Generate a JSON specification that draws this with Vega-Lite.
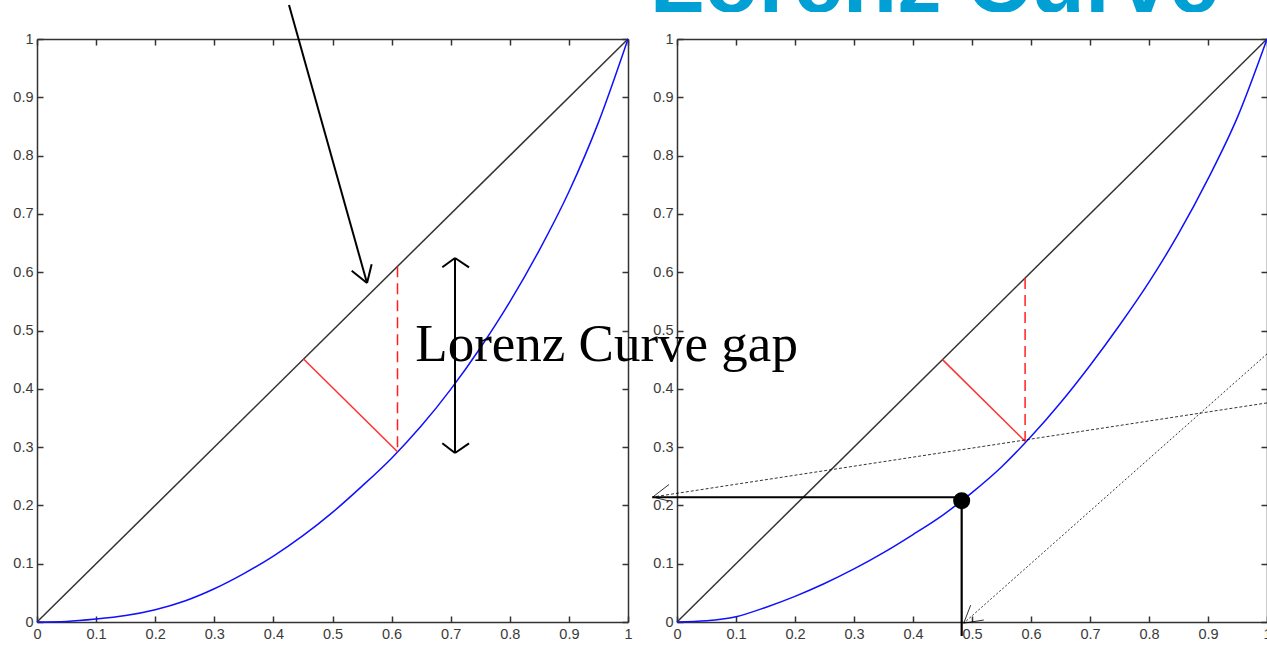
{
  "$schema": "https://vega.github.io/schema/vega-lite/v6.json",
  "padding": {"left": 12, "top": 0, "right": 0, "bottom": 0},
  "autosize": {"type": "pad"},
  "bounds": "flush",
  "spacing": 27,
  "datasets": {
    "title": [{"x": -0.046, "y": 0, "label": "Lorenz Curve"}],
    "diag": [{"x": 0, "y": 0}, {"x": 1, "y": 1}],
    "curveL": [
      {"x": 0, "y": 0}, {"x": 0.05, "y": 0.001}, {"x": 0.1, "y": 0.005}, {"x": 0.15, "y": 0.011},
      {"x": 0.2, "y": 0.021}, {"x": 0.25, "y": 0.036}, {"x": 0.3, "y": 0.057}, {"x": 0.35, "y": 0.083},
      {"x": 0.4, "y": 0.113}, {"x": 0.45, "y": 0.148}, {"x": 0.5, "y": 0.188}, {"x": 0.55, "y": 0.233},
      {"x": 0.6, "y": 0.281}, {"x": 0.65, "y": 0.336}, {"x": 0.7, "y": 0.399}, {"x": 0.75, "y": 0.47},
      {"x": 0.8, "y": 0.549}, {"x": 0.85, "y": 0.638}, {"x": 0.9, "y": 0.738}, {"x": 0.95, "y": 0.857},
      {"x": 1, "y": 1}
    ],
    "curveR": [
      {"x": 0, "y": 0}, {"x": 0.05, "y": 0.002}, {"x": 0.1, "y": 0.009}, {"x": 0.15, "y": 0.025},
      {"x": 0.2, "y": 0.044}, {"x": 0.25, "y": 0.066}, {"x": 0.3, "y": 0.091}, {"x": 0.35, "y": 0.119},
      {"x": 0.4, "y": 0.15}, {"x": 0.45, "y": 0.183}, {"x": 0.5, "y": 0.222}, {"x": 0.55, "y": 0.266},
      {"x": 0.6, "y": 0.318}, {"x": 0.65, "y": 0.376}, {"x": 0.7, "y": 0.44}, {"x": 0.75, "y": 0.509},
      {"x": 0.8, "y": 0.583}, {"x": 0.85, "y": 0.666}, {"x": 0.9, "y": 0.76}, {"x": 0.95, "y": 0.866},
      {"x": 1, "y": 1}
    ],
    "segL": [
      {"x": 0.451, "y": 0.451, "x2": 0.61, "y2": 0.292, "kind": "gap"},
      {"x": 0.61, "y": 0.61, "x2": 0.61, "y2": 0.292, "kind": "gapV"},
      {"x": 0.4264, "y": 1.0583, "x2": 0.5584, "y2": 0.5815, "kind": "arrow"},
      {"x": 0.5584, "y": 0.5815, "x2": 0.5325, "y2": 0.6026, "kind": "arrow"},
      {"x": 0.5584, "y": 0.5815, "x2": 0.5663, "y2": 0.6135, "kind": "arrow"},
      {"x": 0.7073, "y": 0.6244, "x2": 0.7073, "y2": 0.2899, "kind": "arrow"},
      {"x": 0.7073, "y": 0.6244, "x2": 0.6858, "y2": 0.6084, "kind": "arrow"},
      {"x": 0.7073, "y": 0.6244, "x2": 0.731, "y2": 0.6084, "kind": "arrow"},
      {"x": 0.7073, "y": 0.2899, "x2": 0.6858, "y2": 0.3065, "kind": "arrow"},
      {"x": 0.7073, "y": 0.2899, "x2": 0.731, "y2": 0.3065, "kind": "arrow"}
    ],
    "segR": [
      {"x": 0.45, "y": 0.45, "x2": 0.59, "y2": 0.31, "kind": "gap"},
      {"x": 0.59, "y": 0.59, "x2": 0.59, "y2": 0.31, "kind": "gapV"},
      {"x": 0.4825, "y": 0.214, "x2": -0.042, "y2": 0.214, "kind": "guide"},
      {"x": 0.4825, "y": 0.208, "x2": 0.4825, "y2": -0.024, "kind": "guide"},
      {"x": 1.0, "y": 0.3758, "x2": -0.041, "y2": 0.2144, "kind": "callA"},
      {"x": -0.041, "y": 0.2144, "x2": -0.0136, "y2": 0.2358, "kind": "head"},
      {"x": -0.041, "y": 0.2144, "x2": -0.0136, "y2": 0.2075, "kind": "head"},
      {"x": 1.0, "y": 0.4598, "x2": 0.486, "y2": -0.002, "kind": "callB"},
      {"x": 0.486, "y": -0.002, "x2": 0.4978, "y2": 0.029, "kind": "head"},
      {"x": 0.486, "y": -0.002, "x2": 0.52, "y2": 0.0034, "kind": "head"}
    ],
    "dot": [{"x": 0.4825, "y": 0.208}],
    "gapLabel": [{"x": -0.4436, "y": 0.447, "label": "Lorenz Curve gap"}]
  },
  "vconcat": [
    {
      "width": 1229,
      "height": 12,
      "data": {"name": "title"},
      "mark": {"type": "text", "clip": true, "font": "Liberation Sans", "fontSize": 89, "fontWeight": "bold", "color": "#009fd4", "align": "left", "baseline": "alphabetic"},
      "encoding": {
        "x": {"field": "x", "type": "quantitative", "scale": {"domain": [-1.0847, 0.9983], "nice": false, "zero": false}, "axis": null},
        "y": {"field": "y", "type": "quantitative", "scale": {"domain": [0, 1], "nice": false}, "axis": null},
        "text": {"field": "label"}
      }
    },
    {
      "bounds": "flush",
      "spacing": 49,
      "hconcat": [
        {
          "width": 591,
          "height": 583,
          "resolve": {"axis": {"x": "independent", "y": "independent"}},
          "layer": [
            {
              "data": {"name": "diag"},
              "mark": {"type": "line", "color": "#333333", "strokeWidth": 1.5},
              "encoding": {
                "x": {"field": "x", "type": "quantitative", "scale": {"domain": [0, 1], "nice": false, "zero": false},
                      "axis": {"orient": "bottom", "title": null, "labelPadding": 11, "values": [0, 0.1, 0.2, 0.3, 0.4, 0.5, 0.6, 0.7, 0.8, 0.9, 1], "format": "~g", "labelFlush": false}},
                "y": {"field": "y", "type": "quantitative", "scale": {"domain": [0, 1], "nice": false, "zero": false},
                      "axis": {"orient": "left", "title": null, "values": [0, 0.1, 0.2, 0.3, 0.4, 0.5, 0.6, 0.7, 0.8, 0.9, 1], "format": "~g", "labelFlush": false}}
              }
            },
            {
              "data": {"name": "curveL"},
              "mark": {"type": "line", "color": "#1010ff", "strokeWidth": 1.5, "interpolate": "monotone"},
              "encoding": {
                "x": {"field": "x", "type": "quantitative",
                      "axis": {"orient": "top", "title": null, "labels": false, "values": [0, 0.1, 0.2, 0.3, 0.4, 0.5, 0.6, 0.7, 0.8, 0.9, 1]}},
                "y": {"field": "y", "type": "quantitative",
                      "axis": {"orient": "right", "title": null, "labels": false, "values": [0, 0.1, 0.2, 0.3, 0.4, 0.5, 0.6, 0.7, 0.8, 0.9, 1]}}
              }
            },
            {
              "data": {"name": "segL"},
              "transform": [{"filter": "datum.kind === 'gap'"}],
              "mark": {"type": "rule", "color": "#ff3030", "strokeWidth": 1.5},
              "encoding": {
                "x": {"field": "x", "type": "quantitative", "axis": null},
                "y": {"field": "y", "type": "quantitative", "axis": null},
                "x2": {"field": "x2"}, "y2": {"field": "y2"}
              }
            },
            {
              "data": {"name": "segL"},
              "transform": [{"filter": "datum.kind === 'gapV'"}],
              "mark": {"type": "rule", "color": "#ff2020", "strokeWidth": 1.5, "strokeDash": [11, 6]},
              "encoding": {
                "x": {"field": "x", "type": "quantitative", "axis": null},
                "y": {"field": "y", "type": "quantitative", "axis": null},
                "x2": {"field": "x2"}, "y2": {"field": "y2"}
              }
            },
            {
              "data": {"name": "segL"},
              "transform": [{"filter": "datum.kind === 'arrow'"}],
              "mark": {"type": "rule", "color": "#000000", "strokeWidth": 2},
              "encoding": {
                "x": {"field": "x", "type": "quantitative", "axis": null},
                "y": {"field": "y", "type": "quantitative", "axis": null},
                "x2": {"field": "x2"}, "y2": {"field": "y2"}
              }
            }
          ]
        },
        {
          "width": 590,
          "height": 583,
          "resolve": {"axis": {"x": "independent", "y": "independent"}},
          "layer": [
            {
              "data": {"name": "diag"},
              "mark": {"type": "line", "color": "#333333", "strokeWidth": 1.5},
              "encoding": {
                "x": {"field": "x", "type": "quantitative", "scale": {"domain": [0, 1], "nice": false, "zero": false},
                      "axis": {"orient": "bottom", "title": null, "labelPadding": 11, "values": [0, 0.1, 0.2, 0.3, 0.4, 0.5, 0.6, 0.7, 0.8, 0.9, 1], "format": "~g", "labelFlush": false}},
                "y": {"field": "y", "type": "quantitative", "scale": {"domain": [0, 1], "nice": false, "zero": false},
                      "axis": {"orient": "left", "title": null, "values": [0, 0.1, 0.2, 0.3, 0.4, 0.5, 0.6, 0.7, 0.8, 0.9, 1], "format": "~g", "labelFlush": false}}
              }
            },
            {
              "data": {"name": "curveR"},
              "mark": {"type": "line", "color": "#1010ff", "strokeWidth": 1.5, "interpolate": "monotone"},
              "encoding": {
                "x": {"field": "x", "type": "quantitative",
                      "axis": {"orient": "top", "title": null, "labels": false, "values": [0, 0.1, 0.2, 0.3, 0.4, 0.5, 0.6, 0.7, 0.8, 0.9, 1]}},
                "y": {"field": "y", "type": "quantitative",
                      "axis": {"orient": "right", "title": null, "labels": false, "values": [0, 0.1, 0.2, 0.3, 0.4, 0.5, 0.6, 0.7, 0.8, 0.9, 1]}}
              }
            },
            {
              "data": {"name": "segR"},
              "transform": [{"filter": "datum.kind === 'gap'"}],
              "mark": {"type": "rule", "color": "#ff3030", "strokeWidth": 1.5},
              "encoding": {
                "x": {"field": "x", "type": "quantitative", "axis": null},
                "y": {"field": "y", "type": "quantitative", "axis": null},
                "x2": {"field": "x2"}, "y2": {"field": "y2"}
              }
            },
            {
              "data": {"name": "segR"},
              "transform": [{"filter": "datum.kind === 'gapV'"}],
              "mark": {"type": "rule", "color": "#ff2020", "strokeWidth": 1.5, "strokeDash": [11, 6]},
              "encoding": {
                "x": {"field": "x", "type": "quantitative", "axis": null},
                "y": {"field": "y", "type": "quantitative", "axis": null},
                "x2": {"field": "x2"}, "y2": {"field": "y2"}
              }
            },
            {
              "data": {"name": "segR"},
              "transform": [{"filter": "datum.kind === 'callA'"}],
              "mark": {"type": "rule", "color": "#000000", "strokeWidth": 0.8, "strokeDash": [3, 2]},
              "encoding": {
                "x": {"field": "x", "type": "quantitative", "axis": null},
                "y": {"field": "y", "type": "quantitative", "axis": null},
                "x2": {"field": "x2"}, "y2": {"field": "y2"}
              }
            },
            {
              "data": {"name": "segR"},
              "transform": [{"filter": "datum.kind === 'callB'"}],
              "mark": {"type": "rule", "color": "#000000", "strokeWidth": 0.8, "strokeDash": [2, 2]},
              "encoding": {
                "x": {"field": "x", "type": "quantitative", "axis": null},
                "y": {"field": "y", "type": "quantitative", "axis": null},
                "x2": {"field": "x2"}, "y2": {"field": "y2"}
              }
            },
            {
              "data": {"name": "segR"},
              "transform": [{"filter": "datum.kind === 'head'"}],
              "mark": {"type": "rule", "color": "#000000", "strokeWidth": 0.8},
              "encoding": {
                "x": {"field": "x", "type": "quantitative", "axis": null},
                "y": {"field": "y", "type": "quantitative", "axis": null},
                "x2": {"field": "x2"}, "y2": {"field": "y2"}
              }
            },
            {
              "data": {"name": "segR"},
              "transform": [{"filter": "datum.kind === 'guide'"}],
              "mark": {"type": "rule", "color": "#000000", "strokeWidth": 2.2},
              "encoding": {
                "x": {"field": "x", "type": "quantitative", "axis": null},
                "y": {"field": "y", "type": "quantitative", "axis": null},
                "x2": {"field": "x2"}, "y2": {"field": "y2"}
              }
            },
            {
              "data": {"name": "dot"},
              "mark": {"type": "point", "filled": true, "color": "#000000", "opacity": 1, "size": 290},
              "encoding": {
                "x": {"field": "x", "type": "quantitative", "axis": null},
                "y": {"field": "y", "type": "quantitative", "axis": null}
              }
            },
            {
              "data": {"name": "gapLabel"},
              "mark": {"type": "text", "font": "Liberation Serif", "fontSize": 53, "color": "#000000", "align": "left", "baseline": "alphabetic"},
              "encoding": {
                "x": {"field": "x", "type": "quantitative", "axis": null},
                "y": {"field": "y", "type": "quantitative", "axis": null},
                "text": {"field": "label"}
              }
            }
          ]
        }
      ]
    }
  ],
  "config": {
    "view": {"stroke": null},
    "axis": {
      "grid": false,
      "domainColor": "#333333",
      "domainWidth": 1.5,
      "tickColor": "#333333",
      "tickWidth": 1.5,
      "tickSize": -6,
      "labelPadding": 10,
      "labelFont": "Liberation Sans",
      "labelFontSize": 14.5,
      "labelColor": "#3a3a3a"
    }
  }
}
